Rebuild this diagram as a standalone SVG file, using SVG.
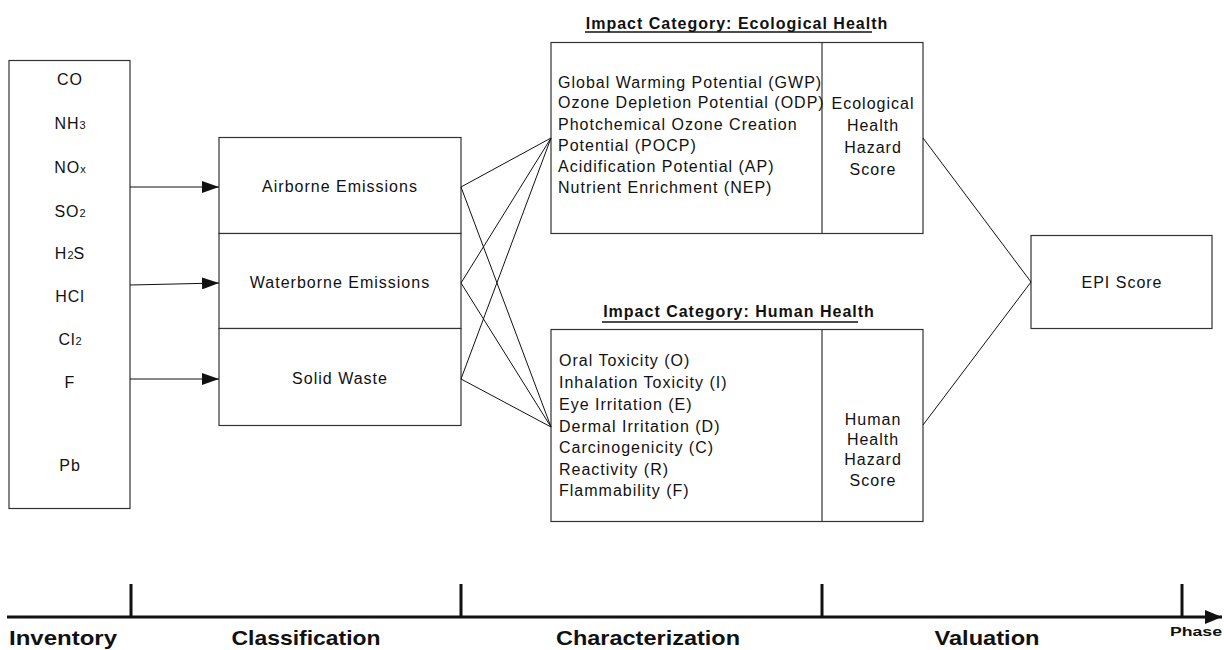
<svg xmlns="http://www.w3.org/2000/svg" width="1224" height="650" viewBox="0 0 1224 650">
<style>
.box{fill:#fff;stroke:#333;stroke-width:1.2}
.t{font-family:"Liberation Sans",Arial,sans-serif;font-size:16px;letter-spacing:1px;fill:#111}
.c{text-anchor:middle}
.sub{font-size:11px;letter-spacing:0}
.ttl{font-family:"Liberation Sans",Arial,sans-serif;font-size:16px;font-weight:bold;letter-spacing:1px;fill:#111}
.ul{stroke:#111;stroke-width:1.3}
.ln{stroke:#111;stroke-width:1;fill:none}
.ar{stroke:#111;stroke-width:1.2;fill:none}
.axis{stroke:#111;stroke-width:3;fill:none}
.ph{font-family:"Liberation Sans",Arial,sans-serif;font-weight:bold;font-size:21px;fill:#111;text-anchor:middle}
</style>
<defs>
<marker id="ah" markerWidth="18" markerHeight="12" refX="17" refY="6" orient="auto" markerUnits="userSpaceOnUse">
<path d="M0,0 L17,6 L0,12 Z" fill="#111"/>
</marker>
<marker id="ah2" markerWidth="18" markerHeight="14" refX="17" refY="7" orient="auto" markerUnits="userSpaceOnUse">
<path d="M0,0 L17,7 L0,14 Z" fill="#111"/>
</marker>
</defs>

<g id="inventory">
<rect class="box" x="9" y="60.5" width="121" height="448"/>
<text class="t c" x="70" y="85">CO</text>
<text class="t c" x="70" y="129">NH<tspan class="sub">3</tspan></text>
<text class="t c" x="70" y="173">NO<tspan class="sub">x</tspan></text>
<text class="t c" x="70" y="217">SO<tspan class="sub">2</tspan></text>
<text class="t c" x="70" y="259">H<tspan class="sub">2</tspan>S</text>
<text class="t c" x="70" y="302">HCl</text>
<text class="t c" x="70" y="345">Cl<tspan class="sub">2</tspan></text>
<text class="t c" x="70" y="388">F</text>
<text class="t c" x="70" y="471">Pb</text>
</g>

<g id="airborne">
<rect class="box" x="219" y="137.5" width="242" height="96"/>
<text class="t c" x="340" y="192">Airborne Emissions</text>
</g>
<g id="waterborne">
<rect class="box" x="219" y="233.5" width="242" height="95"/>
<text class="t c" x="340" y="288">Waterborne Emissions</text>
</g>
<g id="solidwaste">
<rect class="box" x="219" y="328.5" width="242" height="97"/>
<text class="t c" x="340" y="384">Solid Waste</text>
</g>

<g id="ecological">
<text class="ttl c" x="737" y="29">Impact Category: Ecological Health</text>
<line class="ul" x1="585" y1="32" x2="872" y2="32"/>
<rect class="box" x="551" y="42.5" width="372" height="191"/>
<line class="box" x1="822" y1="42.5" x2="822" y2="233.5"/>
<text class="t" x="558" y="88">Global Warming Potential (GWP)</text>
<text class="t" x="558" y="108">Ozone Depletion Potential (ODP)</text>
<text class="t" x="558" y="130">Photchemical Ozone Creation</text>
<text class="t" x="558" y="151">Potential (POCP)</text>
<text class="t" x="558" y="172">Acidification Potential (AP)</text>
<text class="t" x="558" y="193">Nutrient Enrichment (NEP)</text>
<text class="t c" x="873" y="109">Ecological</text>
<text class="t c" x="873" y="131">Health</text>
<text class="t c" x="873" y="153">Hazard</text>
<text class="t c" x="873" y="175">Score</text>
</g>

<g id="human">
<text class="ttl c" x="739" y="317">Impact Category: Human Health</text>
<line class="ul" x1="602" y1="322" x2="858" y2="322"/>
<rect class="box" x="551" y="329.5" width="372" height="192"/>
<line class="box" x1="822" y1="329.5" x2="822" y2="521.5"/>
<text class="t" x="559" y="366">Oral Toxicity (O)</text>
<text class="t" x="559" y="388">Inhalation Toxicity (I)</text>
<text class="t" x="559" y="410">Eye Irritation (E)</text>
<text class="t" x="559" y="432">Dermal Irritation (D)</text>
<text class="t" x="559" y="453">Carcinogenicity (C)</text>
<text class="t" x="559" y="475">Reactivity (R)</text>
<text class="t" x="559" y="496">Flammability (F)</text>
<text class="t c" x="873" y="425">Human</text>
<text class="t c" x="873" y="445">Health</text>
<text class="t c" x="873" y="465">Hazard</text>
<text class="t c" x="873" y="486">Score</text>
</g>

<g id="epi">
<rect class="box" x="1031" y="235.5" width="181" height="93"/>
<text class="t c" x="1122" y="288">EPI Score</text>
</g>

<g id="connectors">
<line class="ar" x1="130" y1="187" x2="219" y2="187" marker-end="url(#ah)"/>
<line class="ar" x1="130" y1="285" x2="219" y2="283" marker-end="url(#ah)"/>
<line class="ar" x1="130" y1="379" x2="219" y2="379" marker-end="url(#ah)"/>
<line class="ln" x1="461" y1="187" x2="551" y2="138"/>
<line class="ln" x1="461" y1="187" x2="551" y2="427"/>
<line class="ln" x1="461" y1="283" x2="551" y2="138"/>
<line class="ln" x1="461" y1="283" x2="551" y2="427"/>
<line class="ln" x1="461" y1="379" x2="551" y2="138"/>
<line class="ln" x1="461" y1="379" x2="551" y2="427"/>
<line class="ln" x1="923" y1="138" x2="1031" y2="282"/>
<line class="ln" x1="923" y1="425" x2="1031" y2="282"/>
</g>

<g id="timeline">
<line class="axis" x1="7" y1="617" x2="1222" y2="617" marker-end="url(#ah2)"/>
<line class="axis" x1="131" y1="584" x2="131" y2="617"/>
<line class="axis" x1="461" y1="584" x2="461" y2="617"/>
<line class="axis" x1="822" y1="584" x2="822" y2="617"/>
<line class="axis" x1="1182" y1="584" x2="1182" y2="617"/>
<text class="ph" x="63" y="645" textLength="108" lengthAdjust="spacingAndGlyphs">Inventory</text>
<text class="ph" x="306" y="645" textLength="149" lengthAdjust="spacingAndGlyphs">Classification</text>
<text class="ph" x="648" y="645" textLength="184" lengthAdjust="spacingAndGlyphs">Characterization</text>
<text class="ph" x="987" y="645" textLength="105" lengthAdjust="spacingAndGlyphs">Valuation</text>
<text class="ph" x="1196" y="636" style="font-size:13px" textLength="52" lengthAdjust="spacingAndGlyphs">Phase</text>
</g>
</svg>
